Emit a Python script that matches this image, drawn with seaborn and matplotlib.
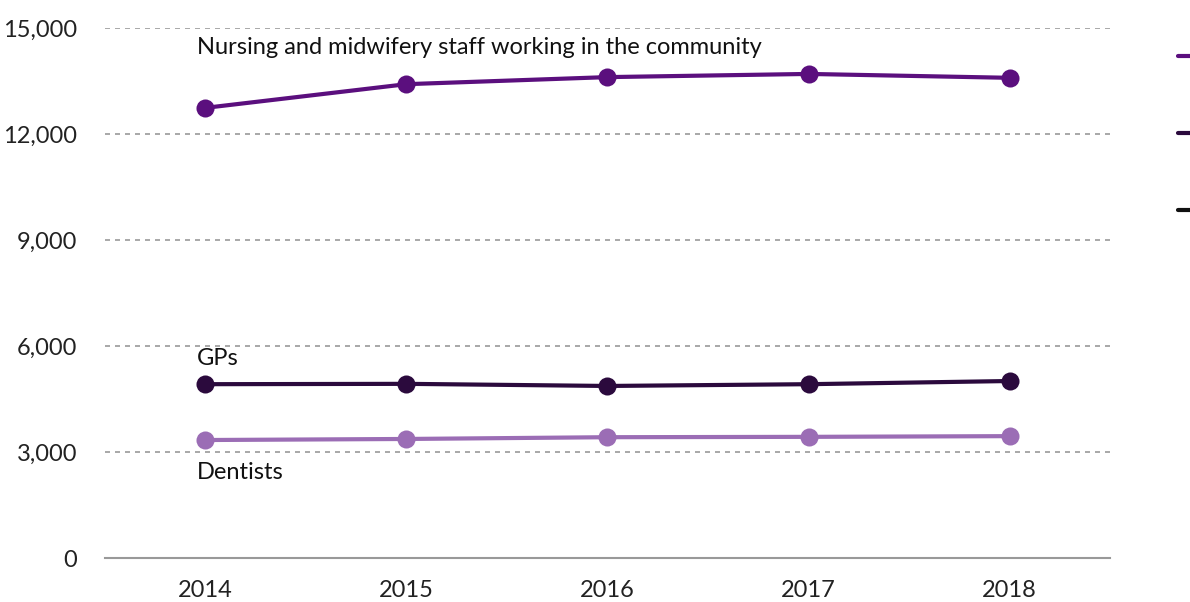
import pandas as pd
import matplotlib.pyplot as plt
import seaborn as sns
from matplotlib.lines import Line2D

# Data
years = [2014, 2015, 2016, 2017, 2018]
nursing = [12740, 13410, 13610, 13700, 13590]
gps = [4920, 4930, 4870, 4920, 5010]
dentists = [3340, 3370, 3420, 3430, 3450]

series = ['Nursing and midwifery staff working in the community', 'GPs', 'Dentists']
colors = ['#5b0f7e', '#2b0a3d', '#9b6db5']

df = pd.DataFrame({
    'Year': years * 3,
    'Staff': nursing + gps + dentists,
    'Group': [series[0]] * 5 + [series[1]] * 5 + [series[2]] * 5,
})

sns.set_style('white')
plt.rcParams['font.family'] = ['Lato', 'DejaVu Sans']

fig = plt.figure(figsize=(11.9, 6.02), dpi=100)
ax = fig.add_axes([0.088, 0.073, 0.845, 0.8805])

sns.lineplot(data=df, x='Year', y='Staff', hue='Group', palette=colors,
             marker='o', markersize=13, markeredgewidth=0, linewidth=3,
             legend=False, ax=ax)

ax.set_xlim(2013.5, 2018.5)
ax.set_ylim(0, 15000)
ax.set_xticks(years)
ax.set_yticks(range(0, 15001, 3000))
ax.set_yticklabels([f'{v:,}' for v in range(0, 15001, 3000)])
ax.tick_params(axis='both', length=0, labelsize=17, colors='#222222')
ax.tick_params(axis='y', pad=20)
ax.tick_params(axis='x', pad=16)
ax.set_xlabel('')
ax.set_ylabel('')

for s in ['top', 'right', 'left']:
    ax.spines[s].set_visible(False)
ax.spines['bottom'].set_color('#999999')
ax.spines['bottom'].set_linewidth(1.5)

for v in range(3000, 15001, 3000):
    ax.axhline(v, color='#999999', linestyle=(0, (3, 3)), linewidth=1.2, zorder=0)

# Series labels
ax.text(2013.96, 14440, series[0], fontsize=17, va='center', ha='left', color='#111111')
ax.text(2013.96, 5660, series[1], fontsize=17, va='center', ha='left', color='#111111')
ax.text(2013.96, 2410, series[2], fontsize=17, va='center', ha='left', color='#111111')

# Legend keys sit at the right edge; their labels fall outside the picture
handles = [Line2D([0], [0], color=c, linewidth=3) for c in ['#5b0f7e', '#2b0a3d', '#111111']]
fig.legend(handles, ['', '', ''], loc='upper left', bbox_to_anchor=(0.99, 0.922),
           frameon=False, handlelength=0.6, labelspacing=2.75, fontsize=15,
           borderaxespad=0, borderpad=0)

plt.savefig('out.png', dpi=100)
